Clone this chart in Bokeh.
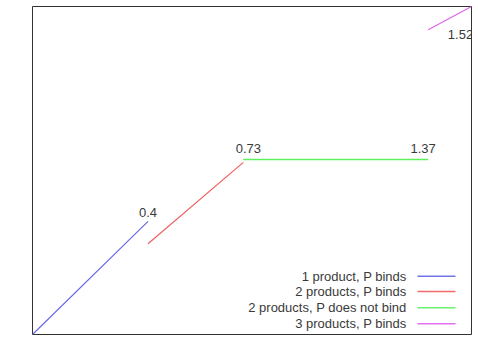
import math
from bokeh.plotting import figure
from bokeh.models import Range1d, Label, BoxAnnotation, ColumnDataSource
from bokeh.core.properties import value
from bokeh.embed import file_html
from bokeh.resources import INLINE

# Series data: x = price cap, y = average price
series_names = ["1 product, P binds", "2 products, P binds",
                "2 products, P does not bind", "3 products, P binds"]
one_p_bind_x = [0.0, 0.4]
one_p_bind_y = [0.0, 0.4]
two_p_bind_x = [0.4, 0.73]
two_p_bind_y = [0.321, 0.609]
two_p_nobind_x = [0.73, 1.37]
two_p_nobind_y = [0.619, 0.619]
three_p_bind_x = [1.37, 1.52]
three_p_bind_y = [1.078, 1.16]

# Breakpoint annotations
break_labels = ["0.4", "0.73", "1.37", "1.52"]
break_x = [0.4, 0.73, 1.37, 1.52]
break_y = [0.4, 0.619, 0.619, 1.16]

colors = ["#6464e6", "#ee5a5a", "#5cf05c", "#e060ee"]
widths = [1.1, 1.1, 1.6, 1.1]
FONT = "Liberation Sans"
FS = "13px"
TXT = "#3a3a3a"

p = figure(width=478, height=345, output_backend="svg", toolbar_location=None,
           min_border_left=32, min_border_right=7, min_border_top=6, min_border_bottom=11,
           x_range=Range1d(0, 1.52), y_range=Range1d(0, 1.16))
p.xaxis.visible = False
p.yaxis.visible = False
p.xgrid.visible = False
p.ygrid.visible = False
p.outline_line_color = "#333333"
p.outline_line_width = 1
p.background_fill_color = "white"
p.border_fill_color = "white"

xs = [one_p_bind_x, two_p_bind_x, two_p_nobind_x, three_p_bind_x]
ys = [one_p_bind_y, two_p_bind_y, two_p_nobind_y, three_p_bind_y]
for x, y, c, w in zip(xs, ys, colors, widths):
    p.line(x, y, line_color=c, line_width=w)

src = ColumnDataSource(dict(x=break_x, y=break_y, t=break_labels,
                            xo=[0, 5, -5, -11], yo=[-9, -11, -11, 28]))
p.text(x="x", y="y", text="t", x_offset="xo", y_offset="yo", source=src,
       text_align="center", text_baseline="alphabetic",
       text_font=value(FONT), text_font_size=FS, text_color=TXT)

# Legend drawn by hand: right-aligned text, colour sample to its right
legend_y = [58.3, 43.0, 26.7, 10.7]
for name, ly, c in zip(series_names, legend_y, colors):
    p.add_layout(Label(x=374, y=ly, x_units="screen", y_units="screen", text=name,
                       text_align="right", text_baseline="middle",
                       text_font=FONT, text_font_size=FS, text_color=TXT))
    p.add_layout(BoxAnnotation(left=385, right=423, bottom=ly - 0.7, top=ly + 0.7,
                               left_units="screen", right_units="screen",
                               bottom_units="screen", top_units="screen",
                               fill_color=c, fill_alpha=0.9, line_alpha=0))

p.add_layout(Label(x=-16, y=165.5, x_units="screen", y_units="screen", text="Average Price",
                   angle=math.pi / 2, text_align="center", text_baseline="middle",
                   text_font=FONT, text_font_size=FS, text_color=TXT))
p.add_layout(Label(x=219.5, y=-7, x_units="screen", y_units="screen", text="Price Cap",
                   text_align="center", text_baseline="top",
                   text_font=FONT, text_font_size=FS, text_color=TXT))

open("out.html", "w").write(file_html(p, INLINE))
